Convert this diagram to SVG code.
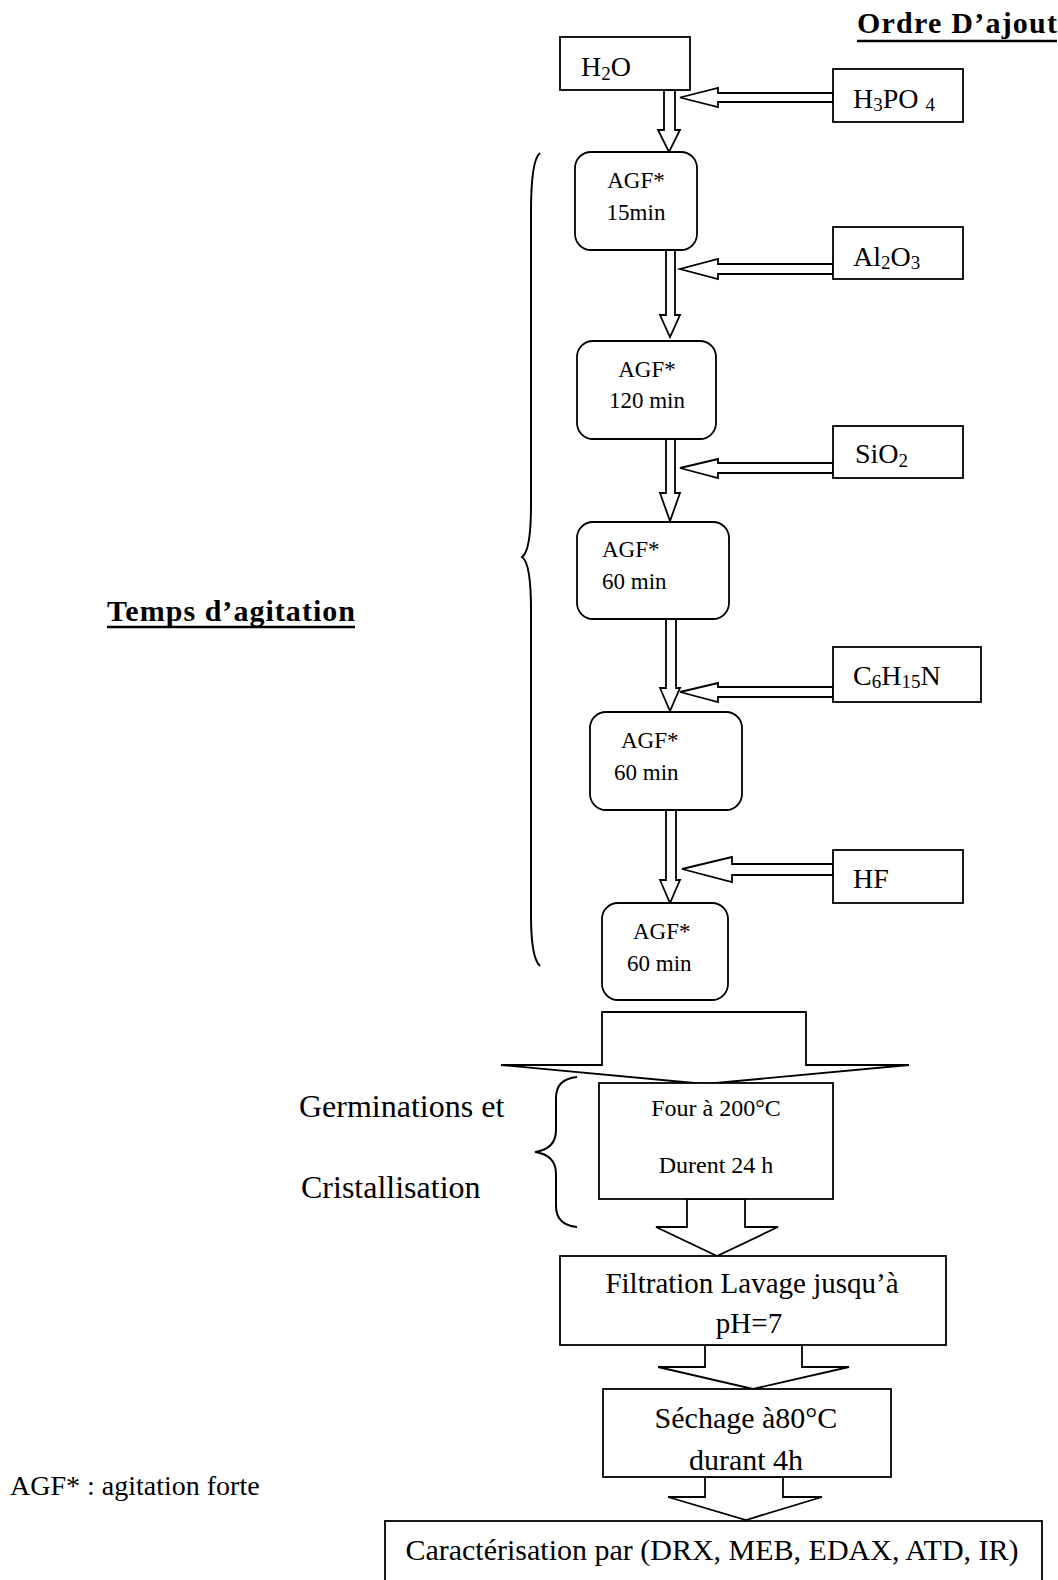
<svg xmlns="http://www.w3.org/2000/svg" width="1058" height="1580" viewBox="0 0 1058 1580">
<style>
text{font-family:"Liberation Serif","Times New Roman",serif;fill:#000}
.box{fill:#fff;stroke:#000;stroke-width:1.8}
.arr{fill:#fff;stroke:#000;stroke-width:1.8;stroke-linejoin:miter}
.brace{fill:none;stroke:#000;stroke-width:2}
.chem{font-size:28px}
.agf{font-size:23px}
.title{font-size:30px;font-weight:bold}
.sub{font-size:19px}
</style>
<rect width="1058" height="1580" fill="#fff"/>

<g id="title-ordre">
<text class="title" x="857" y="33" textLength="200" lengthAdjust="spacing">Ordre D’ajout</text>
<line x1="857" y1="41" x2="1057" y2="41" stroke="#000" stroke-width="2.6"/>
</g>
<g id="title-temps">
<text class="title" x="107" y="621" textLength="248" lengthAdjust="spacing">Temps d’agitation</text>
<line x1="107" y1="627" x2="355" y2="627" stroke="#000" stroke-width="2.6"/>
</g>

<g id="brace-agitation">
<path class="brace" d="M540,153 Q531,160 531,212 L531,505 Q531,551 522,557 Q531,563 531,610 L531,915 Q531,958 540,966"/>
</g>
<g id="brace-cristallisation">
<path class="brace" d="M577,1077 Q556,1079 556,1098 L556,1130 Q556,1149 535,1152 Q556,1155 556,1174 L556,1206 Q556,1225 577,1227"/>
</g>

<g id="connectors">
<polygon class="arr" points="664,90 675,90 675,130 680,130 669,152 658,130 664,130"/>
<polygon class="arr" points="833,93 718,93 718,88 680,97.5 718,107 718,102 833,102"/>
<polygon class="arr" points="666,250 675,250 675,315 680,315 670,337 660,315 666,315"/>
<polygon class="arr" points="833,264 718,264 718,259 680,269 718,279 718,274 833,274"/>
<polygon class="arr" points="666,439 675,439 675,493 680,493 670,521 660,493 666,493"/>
<polygon class="arr" points="833,463 718,463 718,459 680,468 718,478 718,473 833,473"/>
<polygon class="arr" points="666,619 676,619 676,688 680,688 670,711 660,688 666,688"/>
<polygon class="arr" points="833,687 718,687 718,683 680,692 718,702 718,697 833,697"/>
<polygon class="arr" points="666,810 676,810 676,880 680,880 670,903 660,880 666,880"/>
<polygon class="arr" points="833,864 732,864 732,857 682,869 732,882 732,875 833,875"/>
<polygon class="arr" points="602,1012 806,1012 806,1065 909,1065 705,1084 501,1065 602,1065"/>
<polygon class="arr" points="687,1199 745,1199 745,1227 778,1227 717,1256 656,1227 687,1227"/>
<polygon class="arr" points="705,1345 802,1345 802,1367 849,1367 753,1389 658,1367 705,1367"/>
<polygon class="arr" points="705,1477 783,1477 783,1497 822,1497 746,1520 668,1497 705,1497"/>
</g>

<g id="n-h2o">
<rect class="box" x="560" y="37" width="130" height="53"/>
<text class="chem" x="581" y="76">H<tspan class="sub" dy="4">2</tspan><tspan dy="-4">O</tspan></text>
</g>
<g id="n-h3po4">
<rect class="box" x="833" y="69" width="130" height="53"/>
<text class="chem" x="853" y="108">H<tspan class="sub" dy="3">3</tspan><tspan dy="-3">PO </tspan><tspan class="sub" dy="3">4</tspan></text>
</g>
<g id="n-agf15">
<rect class="box" x="575" y="152" width="122" height="98" rx="16"/>
<text class="agf" x="636" y="188" text-anchor="middle">AGF*</text>
<text class="agf" x="636" y="220" text-anchor="middle">15min</text>
</g>
<g id="n-al2o3">
<rect class="box" x="833" y="227" width="130" height="52"/>
<text class="chem" x="853" y="266">Al<tspan class="sub" dy="3">2</tspan><tspan dy="-3">O</tspan><tspan class="sub" dy="3">3</tspan></text>
</g>
<g id="n-agf120">
<rect class="box" x="577" y="341" width="139" height="98" rx="16"/>
<text class="agf" x="647" y="377" text-anchor="middle">AGF*</text>
<text class="agf" x="647" y="408" text-anchor="middle">120 min</text>
</g>
<g id="n-sio2">
<rect class="box" x="833" y="426" width="130" height="52"/>
<text class="chem" x="855" y="463">SiO<tspan class="sub" dy="4">2</tspan></text>
</g>
<g id="n-agf60a">
<rect class="box" x="577" y="522" width="152" height="97" rx="16"/>
<text class="agf" x="602" y="557">AGF*</text>
<text class="agf" x="602" y="589">60 min</text>
</g>
<g id="n-c6h15n">
<rect class="box" x="833" y="647" width="148" height="55"/>
<text class="chem" x="853" y="685">C<tspan class="sub" dy="3">6</tspan><tspan dy="-3">H</tspan><tspan class="sub" dy="3">15</tspan><tspan dy="-3">N</tspan></text>
</g>
<g id="n-agf60b">
<rect class="box" x="590" y="712" width="152" height="98" rx="16"/>
<text class="agf" x="621" y="748">AGF*</text>
<text class="agf" x="614" y="780">60 min</text>
</g>
<g id="n-hf">
<rect class="box" x="833" y="850" width="130" height="53"/>
<text class="chem" x="853" y="888">HF</text>
</g>
<g id="n-agf60c">
<rect class="box" x="602" y="903" width="126" height="97" rx="16"/>
<text class="agf" x="633" y="939">AGF*</text>
<text class="agf" x="627" y="971">60 min</text>
</g>

<g id="n-four">
<rect class="box" x="599" y="1083" width="234" height="116"/>
<text x="716" y="1116" font-size="24" text-anchor="middle">Four à 200°C</text>
<text x="716" y="1173" font-size="24" text-anchor="middle">Durent 24 h</text>
</g>
<g id="label-germ">
<text x="299" y="1117" font-size="32">Germinations et</text>
<text x="301" y="1198" font-size="32">Cristallisation</text>
</g>
<g id="n-filtration">
<rect class="box" x="560" y="1256" width="386" height="89"/>
<text x="752" y="1293" font-size="29" text-anchor="middle">Filtration Lavage jusqu’à</text>
<text x="749" y="1333" font-size="29" text-anchor="middle">pH=7</text>
</g>
<g id="n-sechage">
<rect class="box" x="603" y="1389" width="288" height="88"/>
<text x="746" y="1428" font-size="30" text-anchor="middle">Séchage à80°C</text>
<text x="746" y="1470" font-size="30" text-anchor="middle">durant 4h</text>
</g>
<g id="n-caract">
<rect class="box" x="385" y="1521" width="657" height="75"/>
<text x="712" y="1560" font-size="30" text-anchor="middle">Caractérisation par (DRX, MEB, EDAX, ATD, IR)</text>
</g>
<g id="legend">
<text x="10" y="1495" font-size="28">AGF* : agitation forte</text>
</g>
</svg>
